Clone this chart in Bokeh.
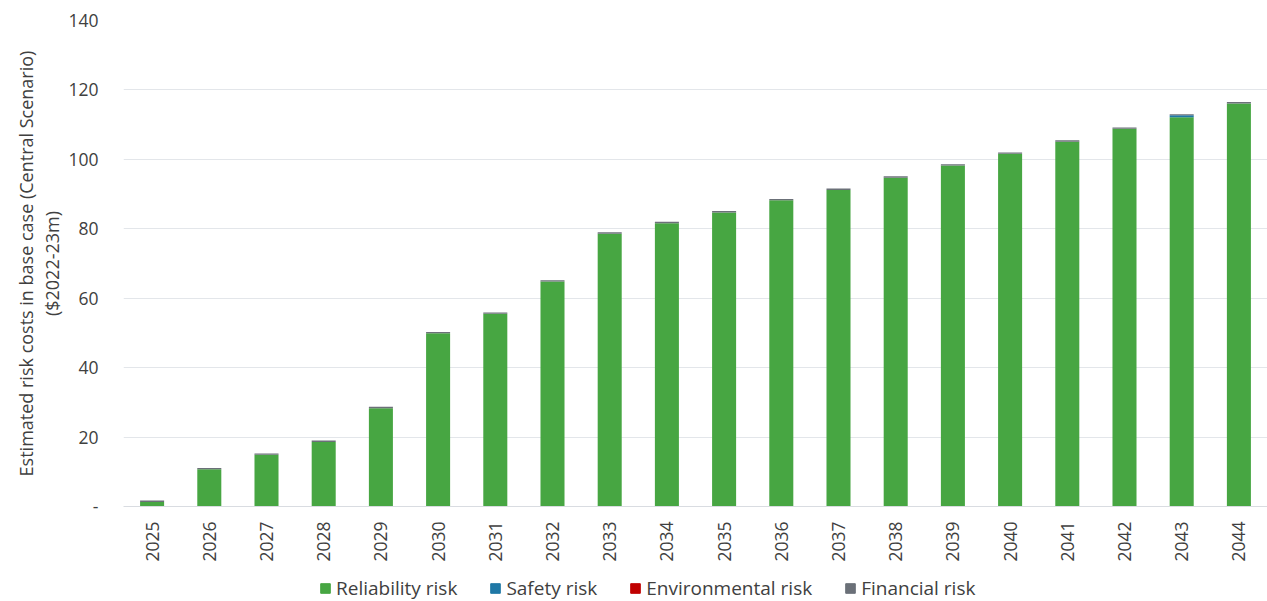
from bokeh.plotting import figure
from bokeh.layouts import column
from bokeh.models import ColumnDataSource, FixedTicker, Legend, LegendItem
from bokeh.embed import file_html
from bokeh.resources import INLINE

years = [str(y) for y in range(2025, 2045)]
reliability = [1.3, 10.7, 14.9, 18.6, 28.3, 49.9, 55.5, 64.8, 78.6, 81.6,
               84.7, 88.2, 91.2, 94.7, 98.2, 101.6, 105.1, 108.8, 112.1, 116.1]
safety = [0.0, 0.0, 0.0, 0.0, 0.0, 0.0, 0.0, 0.0, 0.0, 0.0,
          0.0, 0.0, 0.0, 0.0, 0.0, 0.0, 0.0, 0.0, 0.6, 0.0]
environmental = [0.0] * 20
financial = [0.4, 0.4, 0.4, 0.4, 0.4, 0.4, 0.4, 0.4, 0.4, 0.4,
             0.4, 0.4, 0.4, 0.4, 0.4, 0.4, 0.4, 0.4, 0.3, 0.4]

series = ["reliability", "safety", "environmental", "financial"]
labels = ["Reliability risk", "Safety risk", "Environmental risk", "Financial risk"]
colors = ["#47a642", "#1f78a6", "#c00000", "#6b7078"]

source = ColumnDataSource(dict(years=years, reliability=reliability, safety=safety,
                               environmental=environmental, financial=financial))

FONT = "Open Sans"
TXT = "#404040"
FS = "17.5px"

# main stacked-bar chart
p = figure(x_range=years, y_range=(0, 140), width=1267, height=574,
           output_backend="svg", toolbar_location=None,
           min_border_left=123, min_border_right=0, min_border_top=20,
           min_border_bottom=68)
p.outline_line_color = None

p.vbar_stack(series, x="years", width=0.42, source=source,
             color=colors, line_color=None)

p.yaxis.ticker = FixedTicker(ticks=[0, 20, 40, 60, 80, 100, 120, 140])
p.yaxis.major_label_overrides = {0: "-"}
p.yaxis.axis_line_color = None
p.yaxis.major_tick_line_color = None
p.yaxis.minor_tick_line_color = None
p.yaxis.major_tick_out = 0
p.yaxis.minor_tick_out = 0
p.yaxis.major_label_standoff = 25
p.yaxis.major_label_text_font = FONT
p.yaxis.major_label_text_font_size = FS
p.yaxis.major_label_text_color = TXT
p.yaxis.axis_label = "Estimated risk costs in base case (Central Scenario)\n($2022-23m)"
p.yaxis.axis_label_text_font = FONT
p.yaxis.axis_label_text_font_size = "18px"
p.yaxis.axis_label_text_font_style = "normal"
p.yaxis.axis_label_text_color = TXT
p.yaxis.axis_label_text_line_height = 1.1
p.yaxis.axis_label_standoff = 1

p.xaxis.axis_line_color = "#d9dce1"
p.xaxis.major_tick_line_color = None
p.xaxis.minor_tick_line_color = None
p.xaxis.major_tick_out = 0
p.xaxis.minor_tick_out = 0
p.xaxis.major_label_orientation = 1.5708
p.xaxis.major_label_standoff = 15
p.xaxis.major_label_text_font = FONT
p.xaxis.major_label_text_font_size = FS
p.xaxis.major_label_text_color = TXT

p.xgrid.grid_line_color = None
p.ygrid.grid_line_color = "#e3e6ea"
p.ygrid.grid_line_width = 1

# legend strip underneath the chart (its frame lines up with the chart frame)
lg = figure(width=1267, height=27, output_backend="svg", toolbar_location=None,
            x_range=(0, 1), y_range=(0, 1), min_border=0)
lg.outline_line_color = None
lg.axis.visible = False
lg.grid.visible = False
swatches = [lg.rect(x=[-5], y=[-5], width=1, height=1, color=c) for c in colors]

items = [LegendItem(label=lab, renderers=[r]) for lab, r in zip(labels, swatches)]
legend = Legend(items=items, orientation="horizontal", location=(196, 0),
                glyph_width=12, glyph_height=12, spacing=32, label_standoff=5,
                label_text_font=FONT, label_text_font_size="19px",
                label_text_color=TXT, border_line_color=None,
                background_fill_alpha=0, padding=0, margin=0)
lg.add_layout(legend, "center")

open("out.html", "w").write(file_html(column(p, lg, spacing=0), INLINE))
